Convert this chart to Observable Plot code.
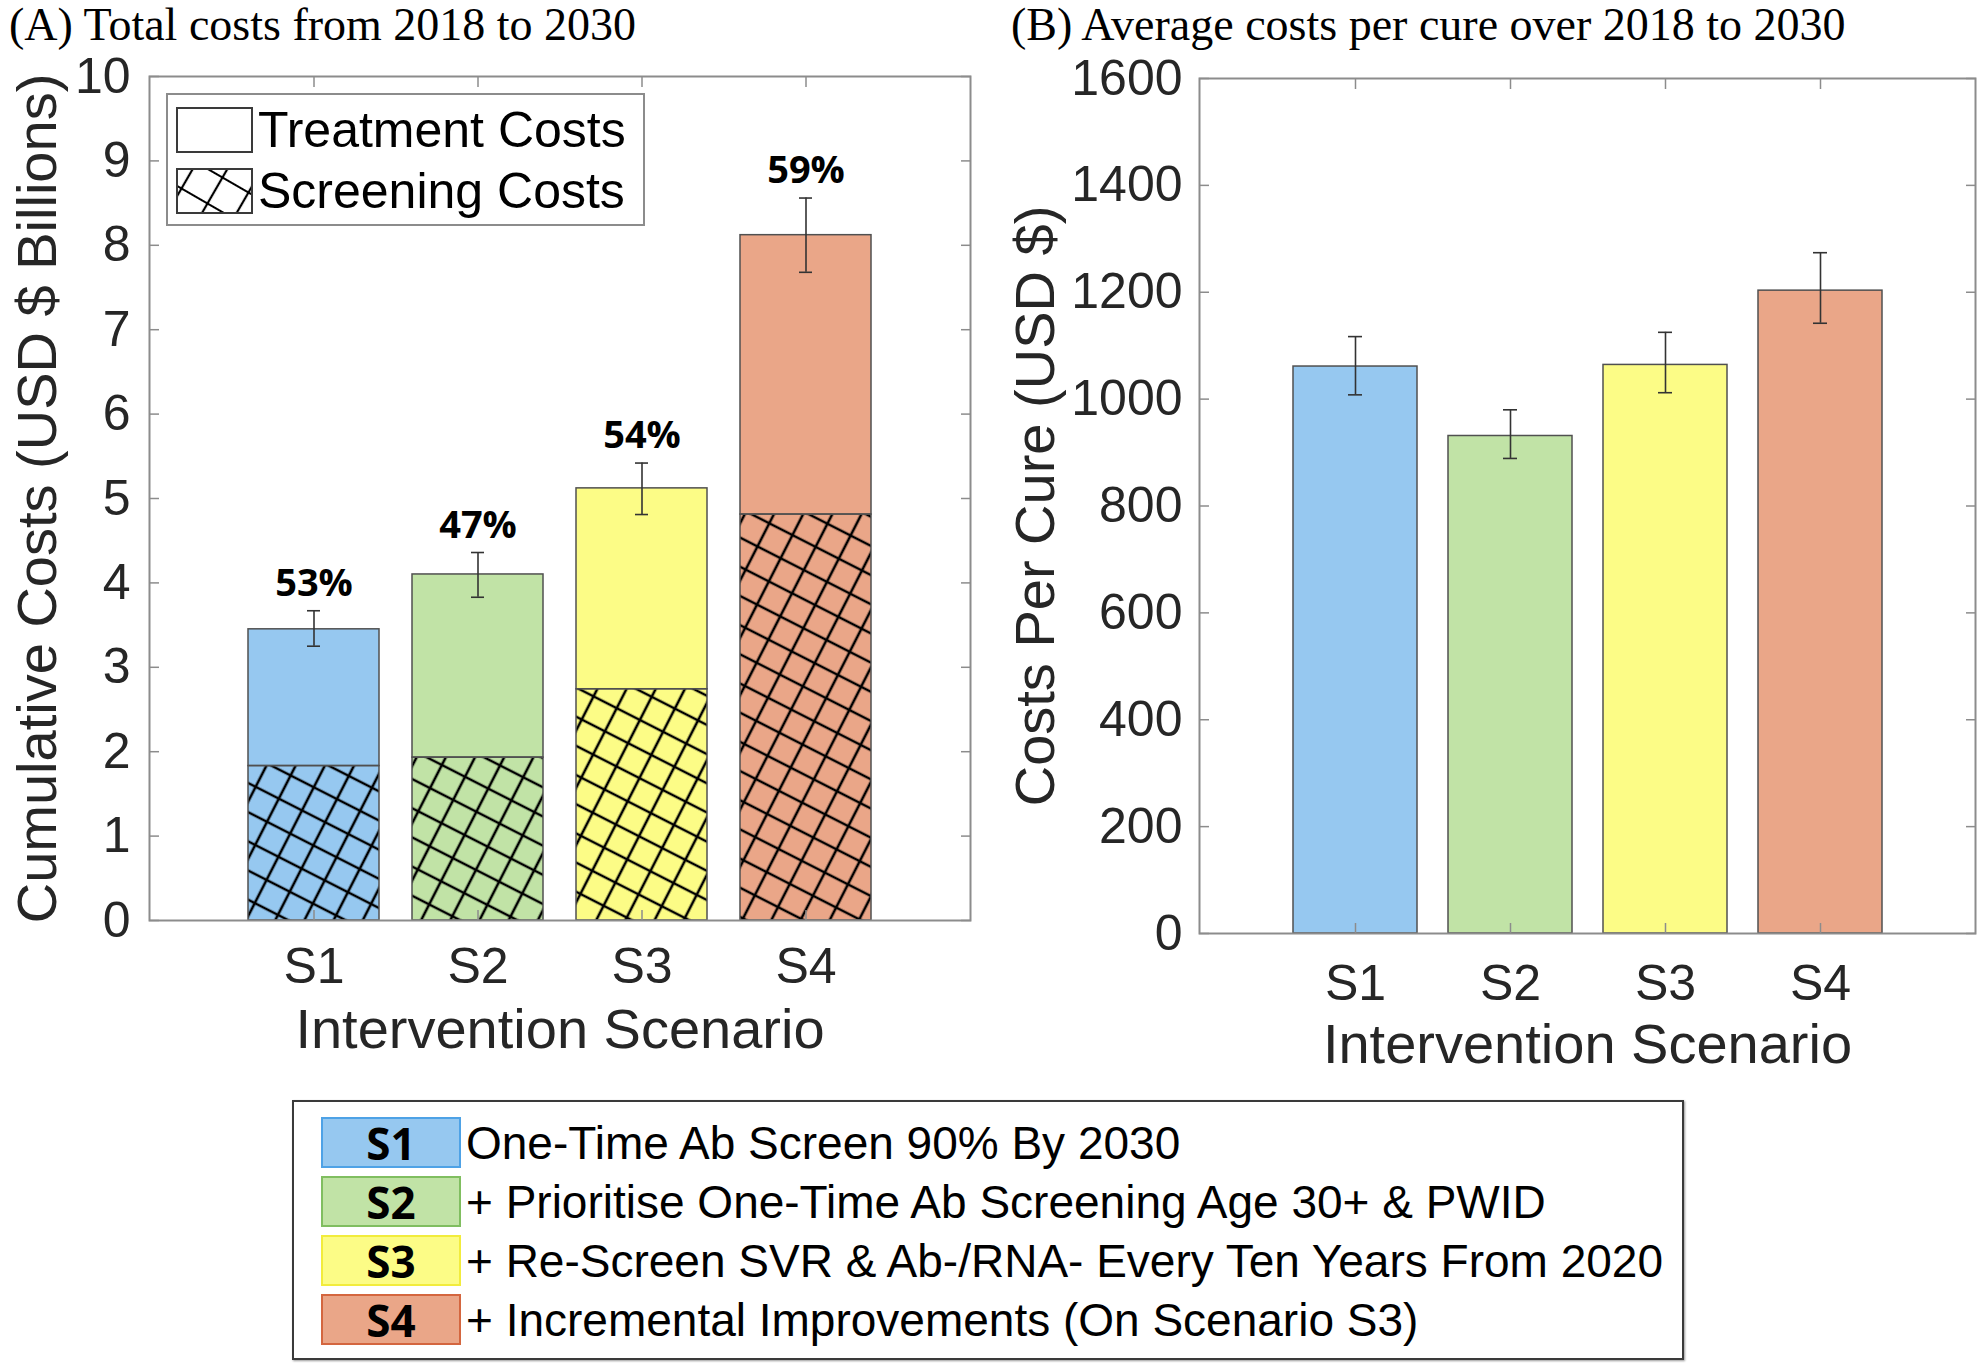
<!DOCTYPE html>
<html>
<head>
<meta charset="utf-8">
<script src="https://cdn.jsdelivr.net/npm/d3@7"></script>
<script src="https://cdn.jsdelivr.net/npm/@observablehq/plot@0.6"></script>
<style>
  html, body { margin: 0; padding: 0; background: #fff; }
  #page { position: relative; width: 1983px; height: 1369px; overflow: hidden; background: #fff;
          font-family: "Liberation Sans", Arial, Helvetica, sans-serif; color: #262626; }
  .panel { position: absolute; top: 0; }
  .title { position: absolute; top: 2px; font-family: "Liberation Serif", "Times New Roman", serif;
           font-size: 46px; line-height: 1; color: #000; white-space: nowrap; }
  #legendA { position: absolute; left: 166px; top: 93px; width: 475px; height: 129px;
             border: 2px solid #8c8c8c; background: #fff; }
  .la-row { position: absolute; left: 8px; height: 46px; display: flex; align-items: center; }
  .la-row svg { display: block; }
  .la-row span { margin-left: 5px; font-size: 50px; color: #000; line-height: 1; white-space: nowrap; }
  #legendB { position: absolute; left: 292px; top: 1100px; width: 1388px; height: 256px;
             border: 2px solid #3a3a3a; background: #fff; box-shadow: 1px 1px 2px #999; }
  .lb-row { position: absolute; left: 27px; height: 51px; display: flex; align-items: center; }
  .lb-sw { width: 136px; height: 47px; border: 2px solid; display: flex; align-items: center; justify-content: center;
           font-family: "Open Sans", "Noto Sans", sans-serif; font-weight: 700; font-size: 44px; color: #000; line-height: 1; }
  .lb-tx { margin-left: 5px; font-size: 46px; color: #000; white-space: nowrap; line-height: 1; }
</style>
</head>
<body>
<div id="page"></div>
<script>
// ---------------- data ----------------
const scenarios = ["S1", "S2", "S3", "S4"];
const scenarioColors = ["#96c8f0", "#c1e3a6", "#fcfc86", "#eaa688"];
const scenarioBorders = ["#4ea2e6", "#80be60", "#f2ec3c", "#d4663f"];
const scenarioDescriptions = [
  "One-Time Ab Screen 90% By 2030",
  "+ Prioritise One-Time Ab Screening Age 30+ & PWID",
  "+ Re-Screen SVR & Ab-/RNA- Every Ten Years From 2020",
  "+ Incremental Improvements (On Scenario S3)"
];

// Panel A: cumulative costs (USD $ billions)
const totalCosts     = [3.45, 4.10, 5.12, 8.12];
const screeningCosts = [1.83, 1.93, 2.74, 4.81];
const totalLow       = [3.25, 3.83, 4.81, 7.68];
const totalHigh      = [3.67, 4.36, 5.42, 8.56];
const screeningShare = ["53%", "47%", "54%", "59%"];
const yTicksA = [0, 1, 2, 3, 4, 5, 6, 7, 8, 9, 10];
const legendALabels = ["Treatment Costs", "Screening Costs"];

// Panel B: costs per cure (USD $)
const costPerCure = [1061, 931, 1064, 1203];
const cureLow     = [1008, 889, 1012, 1142];
const cureHigh    = [1117, 980, 1125, 1274];
const yTicksB = [0, 200, 400, 600, 800, 1000, 1200, 1400, 1600];

const titleA = "(A) Total costs from 2018 to 2030";
const titleB = "(B) Average costs per cure over 2018 to 2030";
const yLabelA = "Cumulative Costs (USD $ Billions)";
const yLabelB = "Costs Per Cure (USD $)";
const xLabel = "Intervention Scenario";

// ---------------- build tables ----------------
const rowsA = scenarios.map((s, i) => ({
  s, total: totalCosts[i], screening: screeningCosts[i], lo: totalLow[i], hi: totalHigh[i], pct: screeningShare[i]
}));
const rowsB = scenarios.map((s, i) => ({ s, v: costPerCure[i], lo: cureLow[i], hi: cureHigh[i] }));

const FONT = "'Liberation Sans', Arial, Helvetica, sans-serif";
const frameColor = "#8c8c8c";
const barStroke = "#505050";
const errColor = "#333333";

function frameTicks(yTicks) {
  return [
    Plot.axisY({ticks: yTicks, anchor: "left", tickSize: 10, dx: 10, tickFormat: () => "", label: null, stroke: frameColor, strokeWidth: 1.5}),
    Plot.axisY({ticks: yTicks, anchor: "right", tickSize: 10, dx: -10, tickFormat: () => "", label: null, stroke: frameColor, strokeWidth: 1.5}),
    Plot.axisX({anchor: "bottom", tickSize: 10, dy: -10, tickFormat: () => "", label: null, stroke: frameColor, strokeWidth: 1.5}),
    Plot.axisX({anchor: "top", tickSize: 10, dy: 10, tickFormat: () => "", label: null, stroke: frameColor, strokeWidth: 1.5})
  ];
}

function addDefs(svg, html) {
  const d = document.createElementNS("http://www.w3.org/2000/svg", "defs");
  d.innerHTML = html;
  svg.insertBefore(d, svg.firstChild);
}

const page = document.getElementById("page");

// ---------------- Panel A ----------------
const plotA = Plot.plot({
  width: 990, height: 1080,
  marginLeft: 149, marginRight: 20, marginTop: 76, marginBottom: 160,
  style: {fontFamily: FONT, color: "#262626", background: "transparent", overflow: "visible"},
  x: {domain: scenarios, paddingInner: 0.2, paddingOuter: 0.6, label: null},
  y: {domain: [0, 10], label: null},
  color: {domain: scenarios, range: scenarioColors},
  marks: [
    Plot.barY(rowsA, {x: "s", y1: 0, y2: "screening", fill: "s"}),
    Plot.barY(rowsA, {x: "s", y1: 0, y2: "screening", fill: "url(#hatchBar)"}),
    Plot.barY(rowsA, {x: "s", y1: "screening", y2: "total", fill: "s"}),
    Plot.barY(rowsA, {x: "s", y1: 0, y2: "screening", fill: "none", stroke: barStroke, strokeWidth: 1.5}),
    Plot.barY(rowsA, {x: "s", y1: "screening", y2: "total", fill: "none", stroke: barStroke, strokeWidth: 1.5}),
    Plot.frame({stroke: frameColor, strokeWidth: 2}),
    ...frameTicks(yTicksA),
    Plot.ruleX(rowsA, {x: "s", y1: "lo", y2: "hi", stroke: errColor, strokeWidth: 1.6}),
    Plot.tickY(rowsA, {x: "s", y: "lo", insetLeft: 59, insetRight: 59, stroke: errColor, strokeWidth: 1.6}),
    Plot.tickY(rowsA, {x: "s", y: "hi", insetLeft: 59, insetRight: 59, stroke: errColor, strokeWidth: 1.6}),
    Plot.text(rowsA, {x: "s", y: "hi", text: "pct", dy: -27, fontSize: 38, fontWeight: "bold",
                      fontFamily: "'Open Sans', 'Noto Sans', sans-serif", fill: "#000"}),
    Plot.axisY({ticks: yTicksA, anchor: "left", tickSize: 0, tickPadding: 19, fontSize: 50, label: null}),
    Plot.axisX({anchor: "bottom", tickSize: 0, tickPadding: 27, fontSize: 50, label: null}),
    Plot.text([yLabelA], {frameAnchor: "left", dx: -111, rotate: -90, textAnchor: "middle", lineAnchor: "middle",
                          fontSize: 56, fill: "#262626"}),
    Plot.text([xLabel], {frameAnchor: "bottom", dy: 110, textAnchor: "middle", lineAnchor: "middle",
                         fontSize: 56, fill: "#262626"})
  ]
});
addDefs(plotA, `<pattern id="hatchBar" patternUnits="userSpaceOnUse" width="26" height="26" patternTransform="rotate(27)">
  <path d="M0,13H26M13,0V26" stroke="#000" stroke-width="2.6" fill="none"/></pattern>`);
plotA.classList.add("panel");
plotA.style.left = "0px";
page.appendChild(plotA);

// ---------------- Panel B ----------------
const plotB = Plot.plot({
  width: 993, height: 1080,
  marginLeft: 209, marginRight: 8, marginTop: 78, marginBottom: 147,
  style: {fontFamily: FONT, color: "#262626", background: "transparent", overflow: "visible"},
  x: {domain: scenarios, paddingInner: 0.2, paddingOuter: 0.6, label: null},
  y: {domain: [0, 1600], label: null},
  color: {domain: scenarios, range: scenarioColors},
  marks: [
    Plot.barY(rowsB, {x: "s", y: "v", fill: "s", stroke: barStroke, strokeWidth: 1.5}),
    Plot.frame({stroke: frameColor, strokeWidth: 2}),
    ...frameTicks(yTicksB),
    Plot.ruleX(rowsB, {x: "s", y1: "lo", y2: "hi", stroke: errColor, strokeWidth: 1.6}),
    Plot.tickY(rowsB, {x: "s", y: "lo", insetLeft: 55, insetRight: 55, stroke: errColor, strokeWidth: 1.6}),
    Plot.tickY(rowsB, {x: "s", y: "hi", insetLeft: 55, insetRight: 55, stroke: errColor, strokeWidth: 1.6}),
    Plot.axisY({ticks: yTicksB, anchor: "left", tickSize: 0, tickPadding: 17, fontSize: 50, label: null,
                tickFormat: d => String(d)}),
    Plot.axisX({anchor: "bottom", tickSize: 0, tickPadding: 31, fontSize: 50, label: null}),
    Plot.text([yLabelB], {frameAnchor: "left", dx: -163, rotate: -90, textAnchor: "middle", lineAnchor: "middle",
                          fontSize: 56, fill: "#262626"}),
    Plot.text([xLabel], {frameAnchor: "bottom", dy: 112, textAnchor: "middle", lineAnchor: "middle",
                         fontSize: 56, fill: "#262626"})
  ]
});
plotB.classList.add("panel");
plotB.style.left = "990px";
page.appendChild(plotB);

// ---------------- titles ----------------
function addTitle(text, left) {
  const t = document.createElement("div");
  t.className = "title";
  t.style.left = left + "px";
  t.textContent = text;
  page.appendChild(t);
}
addTitle(titleA, 9);
addTitle(titleB, 1011);

// ---------------- legend in panel A ----------------
const legA = document.createElement("div");
legA.id = "legendA";
legendALabels.forEach((lab, i) => {
  const row = document.createElement("div");
  row.className = "la-row";
  row.style.top = (i === 0 ? 12 : 73) + "px";
  const hatch = i === 1
    ? `<defs><pattern id="hatchLeg" patternUnits="userSpaceOnUse" width="30" height="30" patternTransform="rotate(30)">
         <path d="M0,15H30M15,0V30" stroke="#000" stroke-width="2.2" fill="none"/></pattern></defs>
       <rect x="1" y="1" width="75" height="44" fill="url(#hatchLeg)"/>`
    : "";
  row.innerHTML = `<svg width="77" height="46" viewBox="0 0 77 46"><rect x="1" y="1" width="75" height="44" fill="#fff"/>${hatch}
      <rect x="1" y="1" width="75" height="44" fill="none" stroke="#3a3a3a" stroke-width="2"/></svg><span>${lab}</span>`;
  legA.appendChild(row);
});
page.appendChild(legA);

// ---------------- scenario legend below ----------------
const legB = document.createElement("div");
legB.id = "legendB";
const rowTops = [15, 74, 133, 192];
scenarios.forEach((s, i) => {
  const row = document.createElement("div");
  row.className = "lb-row";
  row.style.top = rowTops[i] + "px";
  row.innerHTML = `<div class="lb-sw" style="background:${scenarioColors[i]};border-color:${scenarioBorders[i]}">${s}</div>
                   <div class="lb-tx">${scenarioDescriptions[i]}</div>`;
  legB.appendChild(row);
});
page.appendChild(legB);
</script>
</body>
</html>
